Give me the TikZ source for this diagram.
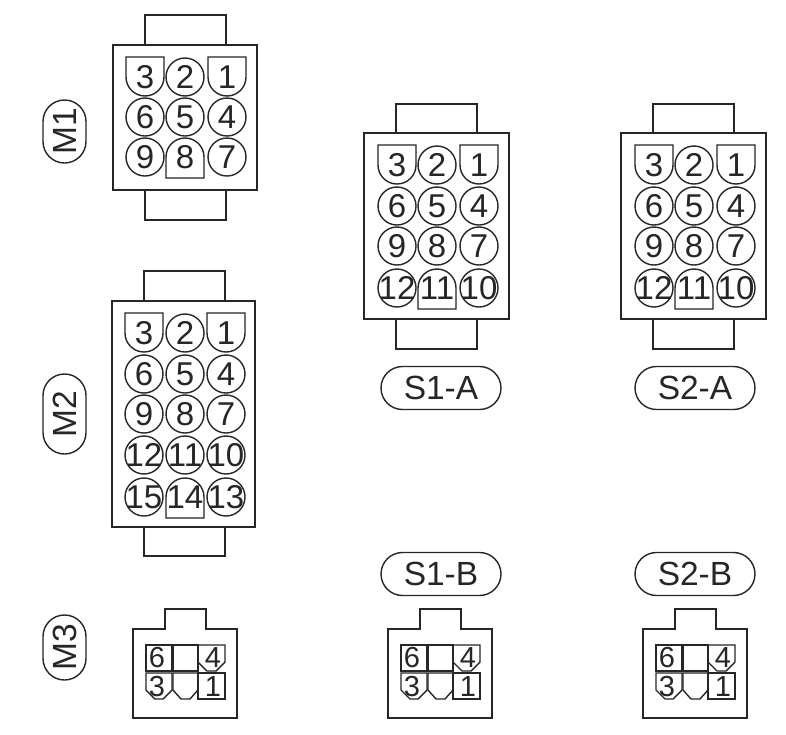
\documentclass[tikz,border=0pt]{standalone}
\usepackage{fontspec}
\setmainfont{Liberation Sans}
\definecolor{ink}{HTML}{262626}
\tikzset{
  pinline/.style={draw=ink,line width=1.4pt,line join=miter},
  housing/.style={draw=ink,line width=1.6pt,fill=white},
  pintext/.style={inner sep=0pt,text=ink,font=\fontsize{33}{33}\selectfont},
  smalltext/.style={inner sep=0pt,text=ink,font=\fontsize{29}{29}\selectfont},
  pill/.style={draw=ink,line width=1.4pt,rounded corners=21.5pt,inner sep=0pt,text=ink,
    font=\fontsize{33.5}{33.5}\selectfont},
}
% round pin, key-down shield, key-up shield: x, y, label
\newcommand{\pinR}[3]{\draw[pinline] (#1,#2) circle[radius=19];
  \node[pintext] (p#3) at (#1,#2) {#3};}
\newcommand{\pinD}[3]{\draw[pinline] (#1-19,#2-20) -- (#1+19,#2-20) -- (#1+19,#2)
    arc[start angle=0,end angle=180,radius=19] -- cycle;
  \node[pintext] (p#3) at (#1,#2) {#3};}
\newcommand{\pinU}[3]{\draw[pinline] (#1-19,#2+21) -- (#1-19,#2)
    arc[start angle=180,end angle=360,radius=19] -- (#1+19,#2+21) -- cycle;
  \node[pintext] (p#3) at (#1,#2) {#3};}
% 12-way connector with origin at top-left of the tab-free housing
\newcommand{\twelve}{%
  \draw[housing] (32,-29) rectangle (113,0);
  \draw[housing] (32,186) rectangle (113,216);
  \draw[housing] (0,0) rectangle (145,186);
  \pinD{33}{32}{3}\pinR{73}{32}{2}\pinD{115}{32}{1}
  \pinR{33}{73}{6}\pinR{73}{73}{5}\pinR{115}{73}{4}
  \pinR{33}{113}{9}\pinR{73}{113}{8}\pinR{115}{113}{7}
  \pinR{33}{155}{12}\pinU{73}{155}{11}\pinR{115}{155}{10}
}
% 6-way connector with origin at top-left of housing
\newcommand{\six}{%
  \draw[housing] (0,89) -- (0,0) -- (32,0) -- (32,-20) -- (73,-20) -- (73,0) -- (104,0) -- (104,89) -- cycle;
  \draw[pinline] (13,16) rectangle (39,42);
  \draw[pinline] (40,16) rectangle (65,42);
  \draw[pinline] (65,16) -- (92,16) -- (92,33) -- (83,42) -- (74,42) -- (65,33) -- cycle;
  \draw[pinline] (13,44) -- (39,44) -- (39,61) -- (30,70) -- (22,70) -- (13,61) -- cycle;
  \draw[pinline] (40,44) -- (65,44) -- (65,61) -- (57,70) -- (48,70) -- (40,61) -- cycle;
  \draw[pinline] (65,44) rectangle (92,70);
  \node[smalltext] (p6) at (24,29) {6};
  \node[smalltext] (p4) at (80,28.5) {4};
  \node[smalltext] (p3) at (24,57.5) {3};
  \node[smalltext] (p1) at (80,57.5) {1};
}
\begin{document}
\begin{tikzpicture}[x=1pt,y=-1pt]
\useasboundingbox[fill=white] (0,0) rectangle (786,734);

% M1
\begin{scope}[name prefix=MA-]
  \draw[housing] (145,15) rectangle (226,45);
  \draw[housing] (145,190) rectangle (226,220);
  \draw[housing] (113,45) rectangle (257,190);
  \pinD{145}{77}{3}\pinR{185}{77}{2}\pinD{227}{77}{1}
  \pinR{145}{117}{6}\pinR{185}{117}{5}\pinR{227}{117}{4}
  \pinR{145}{157}{9}\pinU{185}{157}{8}\pinR{227}{157}{7}
\end{scope}

% M2
\begin{scope}[name prefix=MB-]
  \draw[housing] (144,271) rectangle (225,301);
  \draw[housing] (144,527) rectangle (225,556);
  \draw[housing] (112,301) rectangle (255,527);
  \pinD{144}{333}{3}\pinR{185}{333}{2}\pinD{226}{333}{1}
  \pinR{144}{374}{6}\pinR{185}{374}{5}\pinR{226}{374}{4}
  \pinR{144}{414}{9}\pinR{185}{414}{8}\pinR{226}{414}{7}
  \pinR{144}{455}{12}\pinR{185}{455}{11}\pinR{226}{455}{10}
  \pinR{144}{497}{15}\pinU{185}{497}{14}\pinR{226}{497}{13}
\end{scope}

% S1-A, S2-A
\begin{scope}[shift={(364,133)},name prefix=SAA-]\twelve\end{scope}
\begin{scope}[shift={(621,133)},name prefix=SBA-]\twelve\end{scope}

% M3, S1-B, S2-B
\begin{scope}[shift={(133,629)},name prefix=MC-]\six\end{scope}
\begin{scope}[shift={(388,629)},name prefix=SAB-]\six\end{scope}
\begin{scope}[shift={(643,629)},name prefix=SBB-]\six\end{scope}

% Labels
\node[pill,minimum width=63pt,minimum height=43pt,rotate=90] (lM1) at (64.5,131.5) {M1};
\node[pill,minimum width=80pt,minimum height=43pt,rotate=90] (lM2) at (64.5,414) {M2};
\node[pill,minimum width=65pt,minimum height=43pt,rotate=90] (lM3) at (64.5,647.5) {M3};
\node[pill,minimum width=120pt,minimum height=43pt] (lS1A) at (441,388) {S1-A};
\node[pill,minimum width=120pt,minimum height=43pt] (lS2A) at (695,388) {S2-A};
\node[pill,minimum width=120pt,minimum height=43pt] (lS1B) at (441,574) {S1-B};
\node[pill,minimum width=120pt,minimum height=43pt] (lS2B) at (695,574) {S2-B};
\end{tikzpicture}
\end{document}
